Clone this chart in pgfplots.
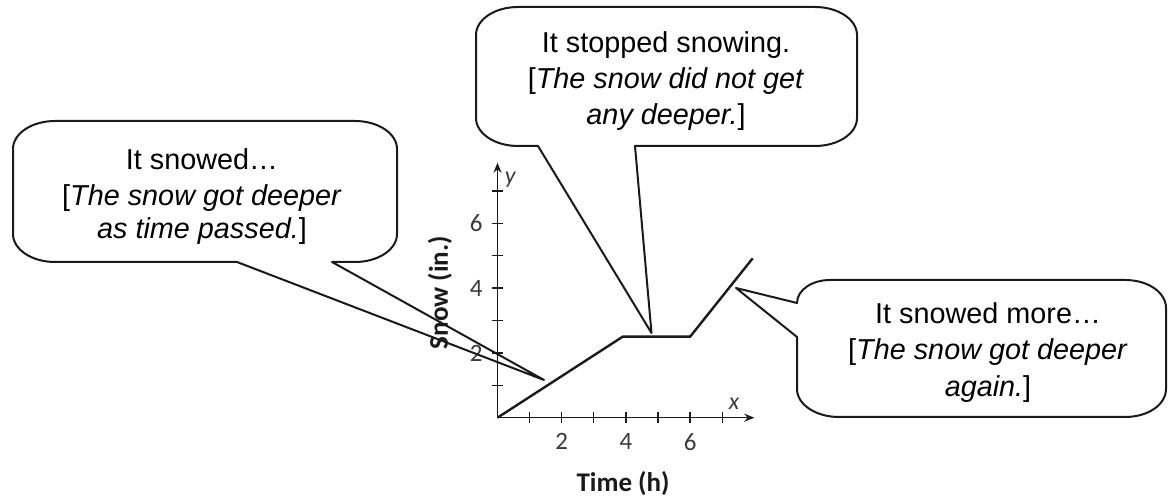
\documentclass[border=0pt]{standalone}
\usepackage{fontspec}
\setmainfont{Liberation Sans}
\newfontfamily\carlito{Carlito}
\usepackage{pgfplots}
\pgfplotsset{compat=1.18}
\usetikzlibrary{arrows.meta}
\definecolor{ink}{HTML}{1A1A1A}
\definecolor{tickgray}{HTML}{3A3A3A}
\begin{document}
\begin{tikzpicture}
\useasboundingbox (0,0) rectangle (1170pt,497pt);
\begin{axis}[
  at={(497.5pt,79.3pt)}, anchor=south west,
  x=32.1pt, y=32.4pt,
  xmin=0, xmax=8, ymin=0, ymax=7.87,
  axis lines=left,
  axis line style={ink, line width=1.5pt, -{Stealth[length=10pt,width=8pt]}},
  xtick={1,...,7}, ytick={1,...,7},
  xticklabels={,2,,4,,6,}, yticklabels={,2,,4,,6,},
  tick align=center, major tick length=11pt,
  tick style={ink, line width=1.3pt},
  /pgf/number format/assume math mode=true,
  ticklabel style={font=\carlito\fontsize{25}{25}\selectfont, text=tickgray},
  xticklabel style={yshift=-7pt},
  yticklabel style={xshift=-6pt},
  xlabel={Time (h)}, ylabel={Snow (in.)},
  label style={font=\carlito\bfseries\fontsize{27}{27}\selectfont, text=ink},
  xlabel style={at={(axis description cs:0.489,-0.291)}, anchor=base},
  ylabel style={at={(axis description cs:-0.224,0.491)}, anchor=center},
  clip=false,
]
\addplot[ink, line width=2.4pt] coordinates {(0,0) (3.9,2.5) (6,2.5) (7.95,4.92)};
\node[font=\carlito\itshape\fontsize{24}{24}\selectfont, text=tickgray] at (axis cs:7.37,0.42) {x};
\node[font=\carlito\itshape\fontsize{24}{24}\selectfont, text=tickgray] at (axis cs:0.40,7.35) {y};
\end{axis}
\begin{scope}[x=1pt, y=-1pt, shift={(0pt,497pt)}, ink, line width=2pt, line join=round]
% left bubble
\draw (332,262) -- (355,262) .. controls (378.2,262) and (397,249.5) .. (397,234) -- (397,149) .. controls (397,133.5) and (378.2,121) .. (355,121) -- (55,121) .. controls (31.8,121) and (13,133.5) .. (13,149) -- (13,234) .. controls (13,249.5) and (31.8,262) .. (55,262) -- (237,262) -- (544,380) -- cycle;
% top bubble
\draw (635,146) -- (815,146) .. controls (838.2,146) and (857,133.5) .. (857,118) -- (857,35) .. controls (857,19.5) and (838.2,7) .. (815,7) -- (518,7) .. controls (494.8,7) and (476,19.5) .. (476,35) -- (476,118) .. controls (476,133.5) and (494.8,146) .. (518,146) -- (538,146) -- (651.5,333) -- cycle;
% right bubble
\draw (797,337) -- (797,389) .. controls (797,404.5) and (815.8,417) .. (839,417) -- (1125,417) .. controls (1148.2,417) and (1166,404.5) .. (1166,389) -- (1166,308) .. controls (1166,292.5) and (1148.2,280) .. (1125,280) -- (830,280) .. controls (812,280) and (797,290) .. (797,303) -- (736,288) -- cycle;
\begin{scope}[every node/.style={anchor=base, font=\fontsize{28.8}{34}\selectfont, text=black, inner sep=0pt}]
\node at (202,170) {It snowed…};
\node at (202,206) {[\textit{The snow got deeper}};
\node at (202,239) {\textit{as time passed.}]};
\node at (666,53) {It stopped snowing.};
\node at (666,89) {[\textit{The snow did not get}};
\node at (666,124.5) {\textit{any deeper.}]};
\node at (988,324) {It snowed more…};
\node at (988,360) {[\textit{The snow got deeper}};
\node at (988,396.5) {\textit{again.}]};
\end{scope}
\end{scope}
\end{tikzpicture}
\end{document}
